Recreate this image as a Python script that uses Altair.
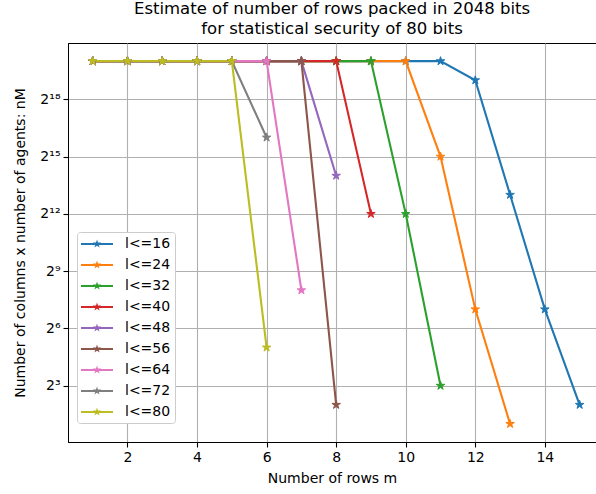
import math
import altair as alt
import pandas as pd

# ---- data ----
series_names = ["l<=16", "l<=24", "l<=32", "l<=40", "l<=48", "l<=56", "l<=64", "l<=72", "l<=80"]
v16 = [1048576, 1048576, 1048576, 1048576, 1048576, 1048576, 1048576, 1048576, 1048576, 1048576, 1048576, 524288, 8192, 128, 4]
v24 = [1048576, 1048576, 1048576, 1048576, 1048576, 1048576, 1048576, 1048576, 1048576, 1048576, 32768, 128, 2]
v32 = [1048576, 1048576, 1048576, 1048576, 1048576, 1048576, 1048576, 1048576, 1048576, 4096, 8]
v40 = [1048576, 1048576, 1048576, 1048576, 1048576, 1048576, 1048576, 1048576, 4096]
v48 = [1048576, 1048576, 1048576, 1048576, 1048576, 1048576, 1048576, 16384]
v56 = [1048576, 1048576, 1048576, 1048576, 1048576, 1048576, 1048576, 4]
v64 = [1048576, 1048576, 1048576, 1048576, 1048576, 1048576, 256]
v72 = [1048576, 1048576, 1048576, 1048576, 1048576, 65536]
v80 = [1048576, 1048576, 1048576, 1048576, 1048576, 32]
series_values = [v16, v24, v32, v40, v48, v56, v64, v72, v80]

x_ticks = [2, 4, 6, 8, 10, 12, 14]
y_tick_values = [8, 64, 512, 4096, 32768, 262144]
y_tick_labels = ["2³", "2⁶", "2⁹", "2¹²", "2¹⁵", "2¹⁸"]

colors = ["#1f77b4", "#ff7f0e", "#2ca02c", "#d62728", "#9467bd",
          "#8c564b", "#e377c2", "#7f7f7f", "#bcbd22"]

rows = []
for si, (name, vals) in enumerate(zip(series_names, series_values)):
    for i, v in enumerate(vals):
        rows.append({"series": name, "m": i + 1, "value": v, "k": si * 100 + i})
df = pd.DataFrame(rows)


# ---- marker geometry ----
def star_pts(r, inner=0.382):
    pts = []
    for k in range(5):
        a = math.radians(90 + 72 * k)
        pts.append((r * math.cos(a), -r * math.sin(a)))
        b = math.radians(90 + 36 + 72 * k)
        pts.append((r * inner * math.cos(b), -r * inner * math.sin(b)))
    return "M" + "L".join(f"{x:.3f},{y:.3f}" for x, y in pts) + "Z"


star_shape = star_pts(1.0)
legend_shape = "M-2,-0.13V0.13H2V-0.13Z" + star_pts(0.56)

font = "DejaVu Sans"

label_expr = ""
for v, lab in zip(y_tick_values, y_tick_labels):
    label_expr += f"abs(datum.value - {v}) < 0.5 ? '{lab}' : "
label_expr += "''"

color_scale = alt.Scale(domain=series_names, range=colors)

x_enc = alt.X("m:Q",
              scale=alt.Scale(domain=[0.29, 15.47], nice=False, zero=False),
              axis=alt.Axis(values=x_ticks, title="Number of rows m", format="d",
                            titlePadding=7))
y_enc = alt.Y("value:Q",
              scale=alt.Scale(type="log", base=2, domain=[2 ** 0.05, 2 ** 20.95], nice=False),
              axis=alt.Axis(values=y_tick_values, labelExpr=label_expr,
                            title="Number of columns x number of agents: nM",
                            titlePadding=12))

base = alt.Chart(df)

lines = base.mark_line(strokeWidth=2.1, clip=True).encode(
    x=x_enc, y=y_enc,
    color=alt.Color("series:N", scale=color_scale, legend=None),
    order=alt.Order("k:Q"),
)

points = base.mark_point(shape=star_shape, filled=True, size=80, opacity=1,
                         strokeWidth=1, clip=True).encode(
    x=x_enc, y=y_enc,
    color=alt.Color("series:N", scale=color_scale,
                    legend=alt.Legend(title=None, orient="none", legendX=9, legendY=189,
                                      symbolType=legend_shape, symbolSize=256,
                                      symbolStrokeWidth=0, symbolOpacity=1,
                                      symbolOffset=8, labelOffset=20,
                                      labelFontSize=14, labelFont=font, labelColor="black",
                                      rowPadding=6, padding=4,
                                      fillColor="white", strokeColor="#cccccc",
                                      cornerRadius=3)),
    stroke=alt.Color("series:N", scale=color_scale, legend=None),
)

chart = alt.layer(lines, points).resolve_legend(color="independent", stroke="independent").properties(
    width=528, height=399,
    background="white",
    title=alt.Title(["Estimate of number of rows packed in 2048 bits",
                     "for statistical security of 80 bits"],
                    fontSize=16.5, font=font, fontWeight="normal", color="black",
                    anchor="middle", lineHeight=19.5, offset=6),
    padding={"left": 68, "top": 43, "right": 0, "bottom": 52},
    autosize=alt.AutoSizeParams(type="none"),
).configure_view(stroke="black", strokeWidth=1).configure_axis(
    domainColor="black", tickColor="black", tickSize=5, tickWidth=1.1,
    labelFontSize=14, labelFont=font, labelColor="black",
    titleFontSize=14, titleFont=font, titleFontWeight="normal", titleColor="black",
    gridColor="#b0b0b0", gridWidth=1.1, labelPadding=3,
)

chart.save("out.html", embed_options={"renderer": "svg", "actions": False})
